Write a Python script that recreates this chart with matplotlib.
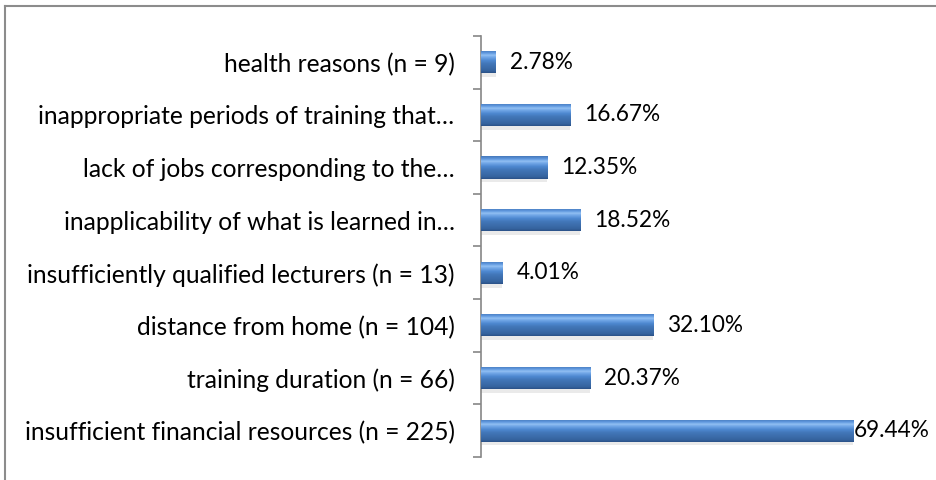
import numpy as np
import matplotlib
matplotlib.use("Agg")
from matplotlib import pyplot as plt
from matplotlib.colors import LinearSegmentedColormap

plt.rcParams['font.family'] = ['Lato', 'DejaVu Sans']

# categories listed bottom to top
categories = [
    "insufficient financial resources (n = 225)",
    "training duration (n = 66)",
    "distance from home (n = 104)",
    "insufficiently qualified lecturers (n = 13)",
    "inapplicability of what is learned in…",
    "lack of jobs corresponding to the…",
    "inappropriate periods of training that…",
    "health reasons (n = 9)",
]
shares = [69.44, 20.37, 32.10, 4.01, 18.52, 12.35, 16.67, 2.78]
share_labels = ["69.44%", "20.37%", "32.10%", "4.01%", "18.52%", "12.35%", "16.67%", "2.78%"]

fig = plt.figure(figsize=(9.36, 4.8), dpi=100)
ax = fig.add_axes([0.5139, 0.048, 0.458, 0.877])

ypos = np.arange(len(categories))
bar_h = 0.42

# soft shadow beneath each bar
ax.barh(ypos - 0.07, shares, height=bar_h, color="#a0a0a0", alpha=0.22, zorder=1, linewidth=0)
bars = ax.barh(ypos, shares, height=bar_h, color="#4a7ebb", zorder=2, linewidth=0)

# bevel-like vertical gradient, clipped to each bar
bevel = LinearSegmentedColormap.from_list("bevel", [
    (0.0, "#2b5288"),
    (0.1, "#36649f"),
    (0.4, "#4276b8"),
    (0.55, "#4d88d0"),
    (0.7, "#74a8e8"),
    (0.78, "#92c0f3"),
    (0.88, "#5f97de"),
    (1.0, "#4679bb"),
])
grad = np.linspace(0, 1, 64).reshape(-1, 1)
for b in bars:
    x0, y0 = b.get_x(), b.get_y()
    w, h = b.get_width(), b.get_height()
    im = ax.imshow(grad, cmap=bevel, origin="lower", aspect="auto",
                   extent=[x0, x0 + w, y0, y0 + h], zorder=3)
    im.set_clip_path(b)

for y, v, lab in zip(ypos, shares, share_labels):
    pad = 2.6 if v < 60 else 0.2
    ax.text(v + pad, y, lab, va="center", ha="left", fontsize=16.3, color="#000000", zorder=4)

ax.set_xlim(0, 80)
ax.set_ylim(-0.5, len(categories) - 0.5)

for side in ("top", "right", "bottom"):
    ax.spines[side].set_visible(False)
ax.spines["left"].set_color("#868686")
ax.spines["left"].set_linewidth(1.2)
ax.set_xticks([])

ax.set_yticks(ypos)
ax.set_yticklabels(categories, fontsize=17.7)
ax.tick_params(axis="y", which="major", length=0, pad=19)
ax.set_yticks(np.arange(-0.5, len(categories)), minor=True)
ax.tick_params(axis="y", which="minor", length=5.5, width=1.2, color="#868686", direction="out")

# chart frame (only left and top edges fall inside the image)
fig.add_artist(plt.Line2D([4.5 / 936, 4.5 / 936], [0, 1 - 6 / 480], color="#8c8c8c", lw=1.5, transform=fig.transFigure))
fig.add_artist(plt.Line2D([4.5 / 936, 1], [1 - 6 / 480, 1 - 6 / 480], color="#8c8c8c", lw=1.5, transform=fig.transFigure))

fig.savefig("out.png", dpi=100)
